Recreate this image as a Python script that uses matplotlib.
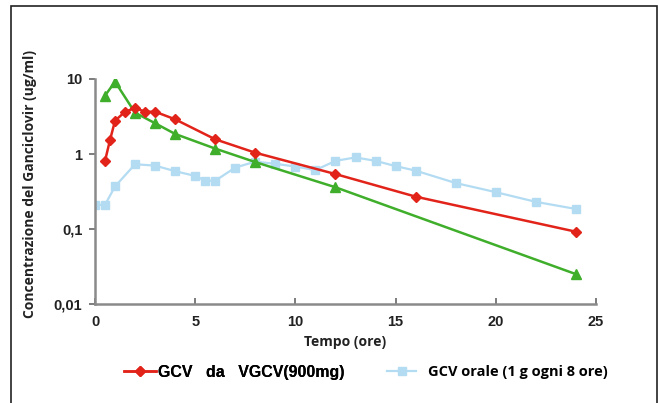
import numpy as np
import matplotlib
matplotlib.use("Agg")
import matplotlib.pyplot as plt
from matplotlib.patches import Rectangle
from matplotlib.ticker import FixedLocator, NullLocator

# dati
t_vgcv = [0.5, 0.75, 1, 1.5, 2, 2.5, 3, 4, 6, 8, 12, 16, 24]
c_vgcv = [0.81, 1.54, 2.78, 3.66, 4.1, 3.66, 3.66, 2.9, 1.57, 1.04, 0.54, 0.27, 0.092]

t_iv = [0.5, 1, 2, 3, 4, 6, 8, 12, 24]
c_iv = [6.0, 9.2, 3.55, 2.57, 1.85, 1.18, 0.78, 0.36, 0.025]

t_oral = [0, 0.5, 1, 2, 3, 4, 5, 5.5, 6, 7, 8, 9, 10, 11, 12, 13, 14, 15, 16, 18, 20, 22, 24]
c_oral = [0.21, 0.21, 0.37, 0.73, 0.70, 0.59, 0.51, 0.44, 0.44, 0.66, 0.79, 0.74, 0.68, 0.61,
          0.81, 0.90, 0.81, 0.69, 0.60, 0.41, 0.31, 0.23, 0.185]

y_ticks = [0.01, 0.1, 1, 10]
y_labels = ["0,01", "0,1", "1", "10"]
x_ticks = [0, 5, 10, 15, 20, 25]

red = "#e2231a"
green = "#3fae2a"
blue = "#b3dcf3"

fig = plt.figure(figsize=(6.59, 4.03), dpi=100)
fig.patches.append(Rectangle((11 / 659, -0.01), 646 / 659, 1 - 6 / 403 + 0.01,
                             transform=fig.transFigure, fill=False,
                             edgecolor="#222222", linewidth=1.2))

ax = fig.add_axes([95 / 659, 1 - 304 / 403, 501 / 659, 225 / 403])
ax.set_yscale("log")
ax.set_xlim(0, 25)
ax.set_ylim(0.01, 10)

l_oral, = ax.plot(t_oral, c_oral, color=blue, marker="s", markersize=6, linewidth=1.6)
l_iv, = ax.plot(t_iv, c_iv, color=green, marker="^", markersize=7, linewidth=1.8)
l_vgcv, = ax.plot(t_vgcv, c_vgcv, color=red, marker="D", markersize=5.5, linewidth=1.8)

for s in ["top", "right"]:
    ax.spines[s].set_visible(False)
for s in ["left", "bottom"]:
    ax.spines[s].set_color("#8a8a8a")
    ax.spines[s].set_linewidth(1.8)

ax.yaxis.set_major_locator(FixedLocator(y_ticks))
ax.set_yticklabels(y_labels)
ax.yaxis.set_minor_locator(NullLocator())
ax.set_xticks(x_ticks)
ax.tick_params(axis="y", direction="out", length=4, width=1.2, color="#666666", pad=5)
ax.tick_params(axis="x", direction="in", length=4, width=1.2, color="#666666", pad=8)
for lab in ax.get_xticklabels() + ax.get_yticklabels():
    lab.set_fontfamily("Liberation Sans")
    lab.set_fontweight("bold")
    lab.set_fontsize(10.5)
    lab.set_color("#222222")

ax.set_xlabel("Tempo (ore)", fontfamily="Open Sans", fontweight="bold", fontsize=10,
              color="#222222", labelpad=4)
ax.set_ylabel("Concentrazione del Ganciclovir (ug/ml)", fontfamily="Open Sans", fontweight="bold",
              fontsize=10, color="#222222")
ax.yaxis.set_label_coords(-0.115, 0.535)

leg1 = fig.legend([l_vgcv], ["GCV   da   VGCV(900mg)"], loc="center left",
                  bbox_to_anchor=(110 / 659, 1 - 372 / 403), frameon=False,
                  handlelength=2.0, handletextpad=0.1,
                  prop={"family": "Liberation Sans", "weight": "bold", "size": 11.5})
leg2 = fig.legend([l_oral], ["GCV orale (1 g ogni 8 ore)"], loc="center left",
                  bbox_to_anchor=(374 / 659, 1 - 372 / 403), frameon=False,
                  handlelength=2.0, handletextpad=0.8,
                  prop={"family": "Open Sans", "weight": "bold", "size": 10.5})
fig.add_artist(leg1)

fig.savefig("out.png", dpi=100)
